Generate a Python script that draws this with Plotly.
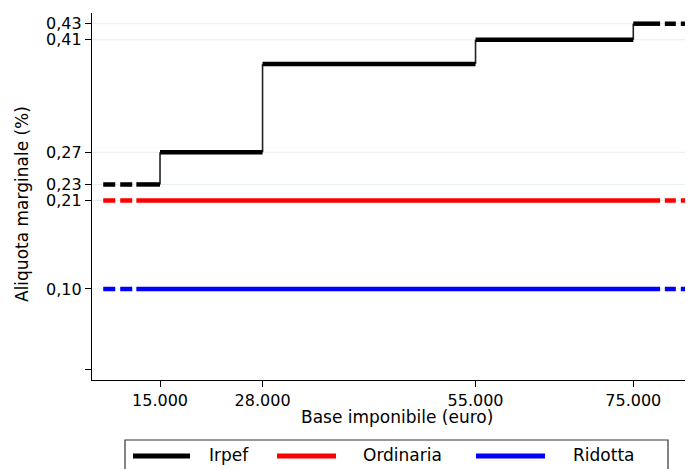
import plotly.graph_objects as go

# Irpef brackets (euro) and marginal rates
bracket_edges = [7800, 15000, 28000, 55000, 75000, 82100]
irpef_rates = [0.23, 0.27, 0.38, 0.41, 0.43]
ordinaria_rate = 0.21
ridotta_rate = 0.10

# solid part of each line; outside it the lines are dashed
solid_start = 12000
solid_end = 78400
dash_end_start = 79000

x_ticks = [15000, 28000, 55000, 75000]
x_ticktext = ["15.000", "28.000", "55.000", "75.000"]
y_ticks = [0, 0.10, 0.21, 0.23, 0.27, 0.41, 0.43]
y_ticktext = ["", "0,10", "0,21", "0,23", "0,27", "0,41", "0,43"]
grid_vals = [0.10, 0.21, 0.23, 0.27, 0.41, 0.43]

FONT = "DejaVu Sans"
X_LO, X_HI = bracket_edges[0], bracket_edges[-1]

fig = go.Figure()

# thin vertical steps of the Irpef schedule
vx, vy = [], []
for i in range(1, len(irpef_rates)):
    e = bracket_edges[i]
    vx += [e, e, None]
    vy += [irpef_rates[i - 1], irpef_rates[i], None]
fig.add_trace(go.Scatter(x=vx, y=vy, mode="lines",
                         line=dict(color="#222222", width=1.6),
                         showlegend=False, hoverinfo="skip"))

# thick horizontal Irpef segments (solid part)
hx, hy = [], []
for i, r in enumerate(irpef_rates):
    a = max(bracket_edges[i], solid_start)
    b = min(bracket_edges[i + 1], solid_end)
    hx += [a, b, None]
    hy += [r, r, None]
fig.add_trace(go.Scatter(x=hx, y=hy, mode="lines",
                         line=dict(color="black", width=4.5),
                         name="Irpef", showlegend=False))


def add_flat(rate_left, rate_right, color, name, solid=True):
    if solid:
        fig.add_trace(go.Scatter(x=[solid_start, solid_end], y=[rate_left, rate_left],
                                 mode="lines", line=dict(color=color, width=4.5),
                                 name=name, showlegend=False))
    fig.add_trace(go.Scatter(x=[X_LO, solid_start], y=[rate_left, rate_left],
                             mode="lines",
                             line=dict(color=color, width=4.5, dash="12px,5px"),
                             showlegend=False, hoverinfo="skip"))
    fig.add_trace(go.Scatter(x=[dash_end_start, X_HI], y=[rate_right, rate_right],
                             mode="lines",
                             line=dict(color=color, width=4.5, dash="11px,5px"),
                             showlegend=False, hoverinfo="skip"))


add_flat(irpef_rates[0], irpef_rates[-1], "black", "Irpef", solid=False)
add_flat(ordinaria_rate, ordinaria_rate, "#ff0000", "Ordinaria")
add_flat(ridotta_rate, ridotta_rate, "#0000ff", "Ridotta")

# light horizontal gridlines at labelled ticks
shapes = [dict(type="line", xref="paper", yref="y", x0=0, x1=1, y0=g, y1=g,
               line=dict(color="#e6eef0", width=1), layer="below")
          for g in grid_vals]

# manual legend box (Stata style); positions in page pixels
W, H = 598.0, 367.0


def px_x(p):
    return (p - 92) / W


def px_y(p):
    return (380 - p) / H


shapes.append(dict(type="rect", xref="paper", yref="paper",
                   x0=px_x(125), x1=px_x(668), y0=px_y(490), y1=px_y(440),
                   line=dict(color="#333333", width=1.2), fillcolor="white"))
legend_items = [("Irpef", "black", 133, 190, 207),
                ("Ordinaria", "#ff0000", 277, 336, 361),
                ("Ridotta", "#0000ff", 476, 545, 571)]
annotations = []
for name, color, l0, l1, tx in legend_items:
    shapes.append(dict(type="line", xref="paper", yref="paper",
                       x0=px_x(l0), x1=px_x(l1), y0=px_y(456), y1=px_y(456),
                       line=dict(color=color, width=5)))
    annotations.append(dict(text=name, xref="paper", yref="paper",
                            x=px_x(tx), y=px_y(455), xanchor="left", yanchor="middle",
                            showarrow=False, font=dict(family=FONT, size=17, color="black")))

annotations.append(dict(text="Base imponibile (euro)", xref="paper", yref="paper",
                        x=px_x(397), y=px_y(417), xanchor="center", yanchor="middle",
                        showarrow=False, font=dict(family=FONT, size=17, color="black")))
annotations.append(dict(text="Aliquota marginale (%)", xref="paper", yref="paper",
                        x=px_x(22), y=px_y(204), xanchor="center", yanchor="middle",
                        textangle=-90, showarrow=False,
                        font=dict(family=FONT, size=17, color="black")))

axis_common = dict(showgrid=False, zeroline=False, showline=True, linecolor="black",
                   linewidth=1.3, ticks="outside", ticklen=6, tickwidth=1.3,
                   tickcolor="black", tickfont=dict(size=16), automargin=False)

# page body has an 8px margin, so the figure is 8px smaller each way
fig.update_layout(
    width=685, height=461,
    margin=dict(l=84, r=3, t=5, b=89),
    paper_bgcolor="white", plot_bgcolor="white",
    font=dict(family=FONT, size=16, color="black"),
    showlegend=False,
    shapes=shapes,
    annotations=annotations,
    xaxis=dict(range=[6377, 82190], tickvals=x_ticks, ticktext=x_ticktext, **axis_common),
    yaxis=dict(range=[-0.0133, 0.4433], tickvals=y_ticks, ticktext=y_ticktext, **axis_common),
)

fig.write_html("out.html")
